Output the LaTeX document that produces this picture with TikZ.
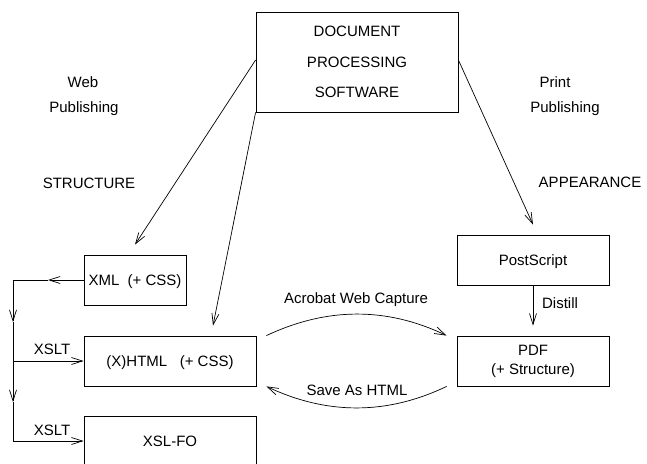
\documentclass[tikz,border=0pt]{standalone}
\usepackage{fontspec}
\setmainfont{Liberation Sans}
\usetikzlibrary{arrows.meta}
\begin{document}
\begin{tikzpicture}[x=1pt,y=-1pt,
  font=\fontsize{15}{18}\selectfont,
  box/.style={draw, line width=0.8pt, inner sep=0pt, text height=11pt, text depth=0pt},
  lbl/.style={inner sep=0pt, text height=11pt, text depth=0pt},
  ln/.style={line width=0.7pt},
  arr/.style={line width=0.7pt, -{Straight Barb[length=11pt,width=7pt]}}]
\useasboundingbox (0,0) rectangle (647,463);
\clip (0,0) rectangle (647,463);
% boxes
\node[draw, line width=0.8pt, inner sep=0pt, minimum width=202pt, minimum height=100pt, align=center,
      font=\fontsize{15}{30.5}\selectfont] (doc) at (357,62) {DOCUMENT\\PROCESSING\\SOFTWARE};
\node[box, minimum width=102pt, minimum height=50pt] (xml) at (135,280) {XML\ \ (+ CSS)};
\node[box, minimum width=172pt, minimum height=50pt] (html) at (170,361) {(X)HTML\ \ \ (+ CSS)};
\node[box, minimum width=172pt, minimum height=50pt] (xslfo) at (170,441) {XSL-FO};
\node[box, minimum width=152pt, minimum height=50pt] (ps) at (533,260) {PostScript};
\node[draw, line width=0.8pt, inner sep=0pt, minimum width=152pt, minimum height=50pt, align=center,
      font=\fontsize{15}{19}\selectfont] (pdf) at (533,361) {PDF\\(+ Structure)};
% free labels
\node[lbl] (web) at (83,82) {Web};
\node[lbl] (wpub) at (84,107) {Publishing};
\node[lbl] (struct) at (89,183) {STRUCTURE};
\node[lbl] (print) at (555,82) {Print};
\node[lbl] (ppub) at (565,107) {Publishing};
\node[lbl] (appear) at (590,182) {APPEARANCE};
% arrows from document box
\draw[arr] ([yshift=2pt]doc.west) -- ([yshift=10pt]xml.north);
\draw[arr] (doc.south west) -- ([xshift=43pt,yshift=10pt]html.north);
\draw[arr] ([yshift=2pt]doc.east) -- ([yshift=10pt]ps.north);
% distill
\draw[arr] (ps.south) -- ([yshift=10pt]pdf.north);
\node[lbl] (distill) at (560,303) {Distill};
% curved conversions
\draw[arr] ([xshift=10pt]html.north east) .. controls (327,307) and (387,307) .. ([xshift=-10pt]pdf.north west);
\node[lbl] (awc) at (356,298) {Acrobat Web Capture};
\draw[arr] ([xshift=-10pt]pdf.south west) .. controls (387,415) and (327,415) .. ([xshift=10pt]html.south east);
\node[lbl] (save) at (357,390) {Save As HTML};
% left trunk
\coordinate (xa) at (48,280);
\coordinate (tA) at (13,280);
\coordinate (tB) at (13,322);
\coordinate (tC) at (13,402);
\coordinate (tD) at (13,441);
\coordinate (tm) at (13,361);
\draw[arr] (xml.west) -- (xa);
\draw[ln] (xa) -- (tA);
\draw[arr] (tA) -- (tB);
\draw[arr] (tB) -- (tC);
\draw[ln] (tC) -- (tD);
\draw[arr] (tm) -- (html.west);
\draw[arr] (tD) -- (xslfo.west);
\node[lbl] (x1) at (52,349) {XSLT};
\node[lbl] (x2) at (52,430) {XSLT};
\end{tikzpicture}
\end{document}
